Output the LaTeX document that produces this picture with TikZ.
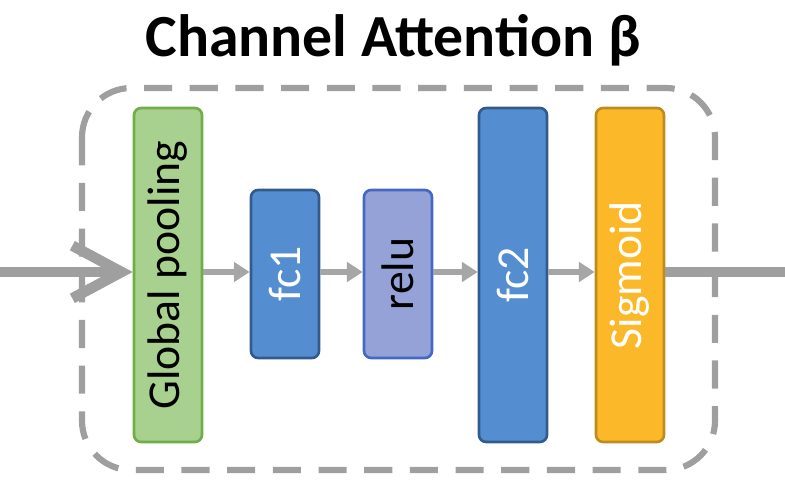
\documentclass[tikz,border=0pt]{standalone}
\usepackage{fontspec}
\setmainfont{Carlito}
\usetikzlibrary{positioning, arrows.meta}

\begin{document}
\begin{tikzpicture}[x=0.02cm, y=-0.02cm,
    block/.style={rounded corners=4pt, line width=1.5pt, minimum width=1.36cm, inner sep=0pt},
    tall/.style={block, minimum height=6.68cm},
    short/.style={block, minimum height=3.36cm},
    rottext/.style={rotate=90, font=\fontsize{26}{26}\selectfont},
    link/.style={-{Triangle[length=9pt,width=11pt]}, draw=gray!70, line width=3pt},
    thickline/.style={draw=gray!75, line width=6pt}
]
\useasboundingbox (0,0) rectangle (785,489);

% Frame and title
\draw[gray!75, line width=3.5pt, dash pattern=on 16pt off 10pt, rounded corners=28pt]
    (82,88) rectangle (715,470);
\node[font=\bfseries\fontsize{34}{34}\selectfont] (title) at (393,40) {Channel Attention β};

% Blocks
\node[tall, fill={rgb,255:red,168;green,208;blue,142}, draw={rgb,255:red,112;green,173;blue,71}] (pool) at (168,275) {};
\node[rottext] at (pool) {Global pooling};
\node[short, fill={rgb,255:red,84;green,142;blue,209}, draw={rgb,255:red,50;green,90;blue,140}] (fc1) at (285,274) {};
\node[rottext, white] at (fc1) {fc1};
\node[short, fill={rgb,255:red,148;green,162;blue,216}, draw={rgb,255:red,68;green,104;blue,196}] (relu) at (398,274) {};
\node[rottext] at (relu) {relu};
\node[tall, fill={rgb,255:red,84;green,142;blue,209}, draw={rgb,255:red,50;green,90;blue,140}] (fc2) at (513,275) {};
\node[rottext, white] at (fc2) {fc2};
\node[tall, fill={rgb,255:red,251;green,184;blue,41}, draw={rgb,255:red,190;green,140;blue,30}] (sig) at (630,275) {};
\node[rottext, white] at (sig) {Sigmoid};

% Connectors
\coordinate (in) at (0,272);
\coordinate (out) at (785,272);
\draw[thickline, -{Straight Barb[length=28pt,width=30pt,line width=6pt]}] (in) -- (pool.west |- in);
\draw[link] (pool.east |- in) -- (fc1.west |- in);
\draw[link] (fc1.east |- in) -- (relu.west |- in);
\draw[link] (relu.east |- in) -- (fc2.west |- in);
\draw[link] (fc2.east |- in) -- (sig.west |- in);
\draw[thickline] (sig.east |- out) -- (out);
\end{tikzpicture}
\end{document}
